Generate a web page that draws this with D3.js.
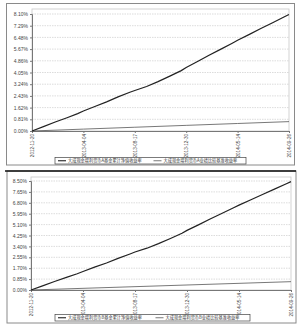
<!DOCTYPE html>
<html>
<head>
<meta charset="utf-8">
<script src="https://cdnjs.cloudflare.com/ajax/libs/d3/7.8.5/d3.min.js"></script>
<style>
  body { margin: 0; background: #fff; }
  svg { display: block; }
  .tick text { font-family: "Liberation Sans", Arial, sans-serif; fill: #444; }
  .legend text { font-family: "Noto Sans CJK SC", sans-serif; fill: #333; }
</style>
</head>
<body>
<svg width="300" height="327"></svg>
<script>
// dates of the points
var dates = ["2012-11-20", "2012-12-20", "2013-01-20", "2013-02-20", "2013-03-20", "2013-04-04",
             "2013-05-04", "2013-06-04", "2013-07-04", "2013-08-04", "2013-08-17", "2013-09-17",
             "2013-10-17", "2013-11-17", "2013-12-17", "2013-12-30", "2014-01-30", "2014-02-28",
             "2014-03-30", "2014-04-30", "2014-05-14", "2014-06-14", "2014-07-14", "2014-08-14",
             "2014-09-14", "2014-09-26"];

// class A cumulative NAV return (%)
var navA = [0.00, 0.30, 0.62, 0.92, 1.20, 1.38, 1.70, 2.02, 2.36, 2.68, 2.80, 3.08,
            3.42, 3.80, 4.18, 4.40, 4.83, 5.24, 5.65, 6.08, 6.28, 6.69, 7.09, 7.50,
            7.91, 8.07];
// class B cumulative NAV return (%)
var navB = [0.00, 0.32, 0.66, 0.98, 1.27, 1.44, 1.78, 2.11, 2.47, 2.81, 2.96, 3.26,
            3.62, 4.02, 4.42, 4.65, 5.10, 5.53, 5.96, 6.42, 6.62, 7.04, 7.45, 7.87,
            8.29, 8.45];

// benchmark return (%), same for both classes
var benchDates = ["2012-11-20", "2013-04-04", "2013-08-17", "2013-12-30", "2014-05-14", "2014-09-26"];
var bench = [0.00, 0.13, 0.26, 0.39, 0.52, 0.65];

var xTickLabels = ["2012-11-20", "2013-04-04", "2013-08-17", "2013-12-30", "2014-05-14", "2014-09-26"];
var yTicksA = [0.00, 0.81, 1.62, 2.43, 3.24, 4.05, 4.86, 5.67, 6.48, 7.29, 8.10];
var yTicksB = [0.00, 0.85, 1.70, 2.55, 3.40, 4.25, 5.10, 5.95, 6.80, 7.65, 8.50];

var legendA = ["大成现金增利货币A基金累计净值收益率", "大成现金增利货币A业绩比较基准收益率"];
var legendB = ["大成现金增利货币B基金累计净值收益率", "大成现金增利货币B业绩比较基准收益率"];

var parse = d3.timeParse("%Y-%m-%d");
var svg = d3.select("svg");

function drawPanel(p) {
    var g = svg.append("g");

    // outer frame
    g.append("rect")
        .attr("x", p.frame[0]).attr("y", p.frame[1])
        .attr("width", p.frame[2] - p.frame[0]).attr("height", p.frame[3] - p.frame[1])
        .attr("fill", "none").attr("stroke", "#8a8a8a").attr("stroke-width", 1);
    if (p.blackTop) {
        g.append("line")
            .attr("x1", p.frame[0] - 2).attr("x2", p.frame[2])
            .attr("y1", p.frame[1]).attr("y2", p.frame[1])
            .attr("stroke", "#111").attr("stroke-width", 1.6);
    }

    var x = d3.scaleTime()
        .domain([parse(xTickLabels[0]), parse(xTickLabels[xTickLabels.length - 1])])
        .range([p.left, p.right]);
    var y = d3.scaleLinear()
        .domain([0, p.yTicks[p.yTicks.length - 1]])
        .range([p.bottom, p.top]);

    // plot box
    g.append("rect")
        .attr("x", p.left).attr("y", p.boxTop)
        .attr("width", p.right - p.left).attr("height", p.bottom - p.boxTop)
        .attr("fill", "none").attr("stroke", "#c8c8c8").attr("stroke-width", 0.8);

    // grid
    g.selectAll(".grid").data(p.yTicks.slice(1)).enter().append("line")
        .attr("x1", p.left).attr("x2", p.right)
        .attr("y1", function(d) { return y(d); })
        .attr("y2", function(d) { return y(d); })
        .attr("stroke", "#c4c4c4").attr("stroke-width", 0.6)
        .attr("stroke-dasharray", "1.5,1");

    var yAxis = g.append("g")
        .attr("transform", "translate(" + p.left + ",0)")
        .call(d3.axisLeft(y).tickValues(p.yTicks)
            .tickFormat(function(d) { return d.toFixed(2) + "%"; })
            .tickSize(2).tickPadding(2));
    yAxis.selectAll("text").style("font-size", "5px");
    yAxis.select(".domain").attr("stroke", "#777");
    yAxis.selectAll(".tick line").attr("stroke", "#777");

    var xAxis = g.append("g")
        .attr("transform", "translate(0," + p.bottom + ")")
        .call(d3.axisBottom(x).tickValues(xTickLabels.map(parse))
            .tickFormat(d3.timeFormat("%Y-%m-%d"))
            .tickSize(2));
    xAxis.select(".domain").attr("stroke", "#777");
    xAxis.selectAll(".tick line").attr("stroke", "#777");
    xAxis.selectAll("text")
        .style("font-size", "4.6px")
        .attr("text-anchor", "end")
        .attr("dy", "0.35em")
        .attr("transform", "translate(0,3) rotate(-90)")
        .attr("x", 0).attr("y", 0);

    var line = d3.line()
        .x(function(d) { return x(d[0]); })
        .y(function(d) { return y(d[1]); });

    g.append("path")
        .datum(benchDates.map(function(d, i) { return [parse(d), bench[i]]; }))
        .attr("d", line)
        .attr("fill", "none").attr("stroke", "#555").attr("stroke-width", 0.8);

    g.append("path")
        .datum(dates.map(function(d, i) { return [parse(d), p.nav[i]]; }))
        .attr("d", line)
        .attr("fill", "none").attr("stroke", "#222").attr("stroke-width", 1.2);

    // legend
    var lg = g.append("g").attr("class", "legend");
    lg.append("rect")
        .attr("x", p.legend[0]).attr("y", p.legend[1])
        .attr("width", p.legend[2] - p.legend[0]).attr("height", p.legend[3] - p.legend[1])
        .attr("fill", "#fff").attr("stroke", "#444").attr("stroke-width", 0.7);
    var cy = (p.legend[1] + p.legend[3]) / 2;
    var half = (p.legend[2] - p.legend[0]) / 2;
    p.legendText.forEach(function(t, i) {
        var x0 = p.legend[0] + 3 + i * half;
        lg.append("line")
            .attr("x1", x0).attr("x2", x0 + 8)
            .attr("y1", cy).attr("y2", cy)
            .attr("stroke", i === 0 ? "#222" : "#555")
            .attr("stroke-width", i === 0 ? 1.1 : 0.8);
        lg.append("text")
            .attr("x", x0 + 10).attr("y", cy)
            .attr("dy", "0.35em")
            .style("font-size", "4.2px")
            .text(t);
    });
}

drawPanel({
    frame: [6.5, 3.5, 294.5, 165],
    left: 32, right: 289, top: 14, bottom: 131, boxTop: 9,
    yTicks: yTicksA, nav: navA, legendText: legendA,
    legend: [55, 157.5, 246, 164]
});

drawPanel({
    frame: [7, 171, 296, 323],
    blackTop: true,
    left: 31, right: 291, top: 181, bottom: 290, boxTop: 177,
    yTicks: yTicksB, nav: navB, legendText: legendB,
    legend: [55, 314.5, 250, 321]
});
</script>
</body>
</html>
